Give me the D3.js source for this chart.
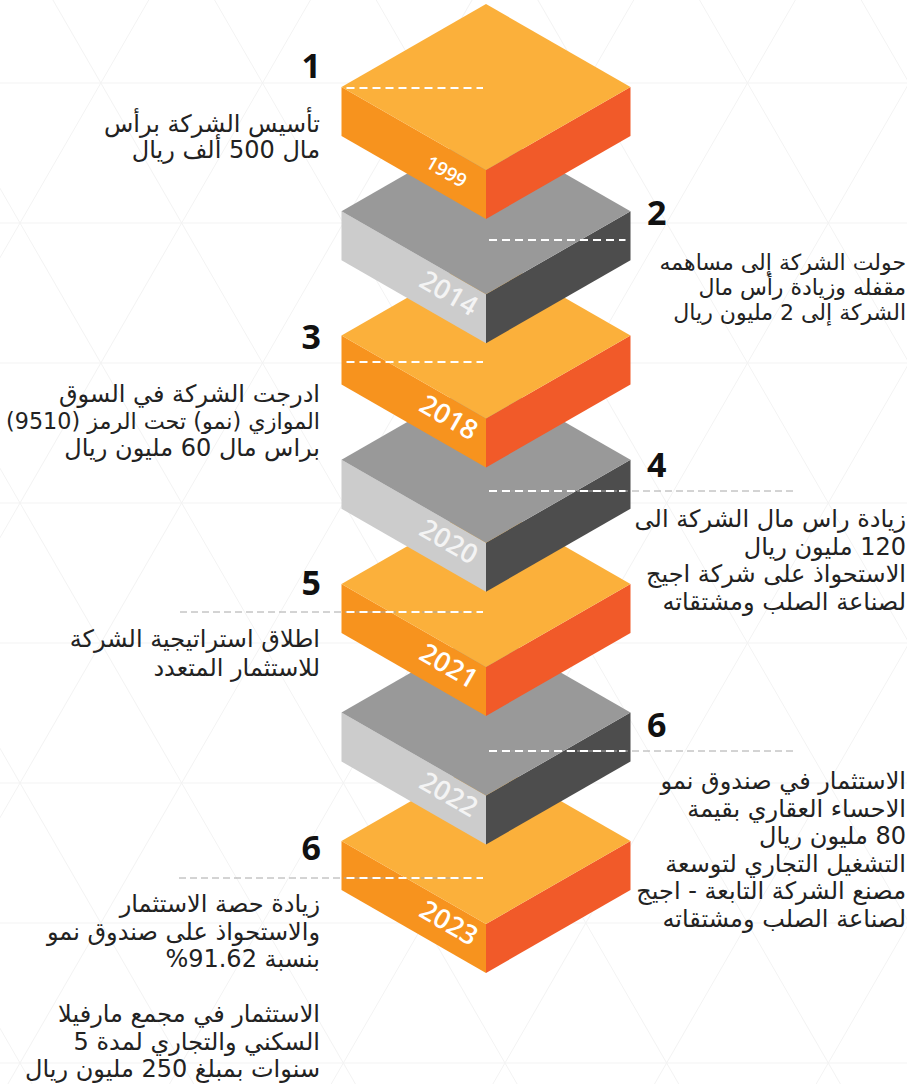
<!DOCTYPE html>
<html>
<head>
<meta charset="utf-8">
<script src="https://cdn.jsdelivr.net/npm/d3@7/dist/d3.min.js"></script>
<style>
  body { margin: 0; background: #fff; }
  svg { display: block; }
</style>
</head>
<body>
<svg id="chart"></svg>
<script>
// timeline data
var years = ["1999", "2014", "2018", "2020", "2021", "2022", "2023"];
var tones = ["orange", "gray", "orange", "gray", "orange", "gray", "orange"];
var stepNumbers = ["1", "2", "3", "4", "5", "6", "6"];
var stepSides = ["left", "right", "left", "right", "left", "right", "left"];
var stepLines = [
  ["تأسيس الشركة برأس", "مال 500 ألف ريال"],
  ["حولت الشركة إلى مساهمه", "مقفله وزيادة رأس مال", "الشركة إلى 2 مليون ريال"],
  ["ادرجت الشركة في السوق", "الموازي (نمو) تحت الرمز (9510)", "براس مال 60 مليون ريال"],
  ["زيادة راس مال الشركة الى", "120 مليون ريال", "الاستحواذ على شركة اجيج", "لصناعة الصلب ومشتقاته"],
  ["اطلاق استراتيجية الشركة", "للاستثمار المتعدد"],
  ["الاستثمار في صندوق نمو", "الاحساء العقاري بقيمة", "80 مليون ريال",
   "التشغيل التجاري لتوسعة", "مصنع الشركة التابعة - اجيج", "لصناعة الصلب ومشتقاته"],
  ["زيادة حصة الاستثمار", "والاستحواذ على صندوق نمو", "بنسبة 91.62%", "",
   "الاستثمار في مجمع مارفيلا", "السكني والتجاري لمدة 5", "سنوات بمبلغ 250 مليون ريال"]
];

var W = 907, H = 1084;
var svg = d3.select("#chart").attr("width", W).attr("height", H);

var colors = {
  orange: { top: "#fbb03b", left: "#f7931e", right: "#f15a29", year: "#ffffff" },
  gray:   { top: "#999999", left: "#cccccc", right: "#4d4d4d", year: "#f4f4f4" }
};

// block geometry
var cx = 486, hw = 144.5, hh = 83, th = 49;
var yBlock = d3.scaleLinear().domain([0, 4, 6]).range([87, 584, 841]);

// label layout per step (dashed line y, number baseline, first text baseline, line height, font size)
var labelLayout = [
  { dash: 88,  num: 78,  text: 132, lh: 26,   ext: 0,   fs: 24 },
  { dash: 240, num: 225, text: 270, lh: 25,   ext: 0,   fs: 22 },
  { dash: 362, num: 349, text: 402, lh: 27,   ext: 0,   fs: 24 },
  { dash: 491, num: 477, text: 527, lh: 27.7, ext: 793, fs: 24 },
  { dash: 612, num: 595, text: 647, lh: 29,   ext: 180, fs: 24 },
  { dash: 751, num: 737, text: 789, lh: 27.6, ext: 795, fs: 24 },
  { dash: 878, num: 860, text: 912, lh: 27.5, ext: 179, fs: 24 }
];

// faint triangle lattice in the background
var bg = svg.append("g").attr("stroke", "#f3f3f3").attr("stroke-width", 1).attr("fill", "none");
var rowH = 140, side = rowH / Math.sin(Math.PI / 3), y0 = 83;
d3.range(-1, 9).forEach(function (k) {
  var y = y0 + k * rowH;
  bg.append("line").attr("x1", 0).attr("x2", W).attr("y1", y).attr("y2", y);
});
d3.range(-8, 14).forEach(function (k) {
  var x = 20 + k * side;
  var dx = (H - y0 + rowH) / Math.tan(Math.PI / 3);
  bg.append("line").attr("x1", x).attr("y1", y0 - rowH)
    .attr("x2", x + dx).attr("y2", H);
  bg.append("line").attr("x1", x).attr("y1", y0 - rowH)
    .attr("x2", x - dx).attr("y2", H);
});

var blocks = years.map(function (y, i) { return { year: y, tone: tones[i], i: i }; });

// draw lower blocks first so upper ones sit on top
var g = svg.selectAll("g.block")
  .data(blocks.slice().reverse())
  .enter().append("g")
  .attr("class", "block");

function pts(a) { return a.map(function (p) { return p.join(","); }).join(" "); }

g.append("polygon")
  .attr("fill", function (d) { return colors[d.tone].left; })
  .attr("points", function (d) {
    var cy = yBlock(d.i);
    return pts([[cx - hw, cy], [cx, cy + hh], [cx, cy + hh + th], [cx - hw, cy + th]]);
  });
g.append("polygon")
  .attr("fill", function (d) { return colors[d.tone].right; })
  .attr("points", function (d) {
    var cy = yBlock(d.i);
    return pts([[cx + hw, cy], [cx, cy + hh], [cx, cy + hh + th], [cx + hw, cy + th]]);
  });
g.append("polygon")
  .attr("fill", function (d) { return colors[d.tone].top; })
  .attr("points", function (d) {
    var cy = yBlock(d.i);
    return pts([[cx, cy - hh], [cx + hw, cy], [cx, cy + hh], [cx - hw, cy]]);
  });

var slope = Math.atan2(hh, hw) * 180 / Math.PI;
g.append("text")
  .text(function (d) { return d.year; })
  .attr("font-family", "Open Sans, sans-serif")
  .attr("font-weight", 600)
  .attr("font-size", function (d) { return d.i == 0 ? 19 : 27; })
  .attr("text-anchor", "end")
  .attr("fill", function (d) { return colors[d.tone].year; })
  .attr("transform", function (d) {
    var cy = yBlock(d.i);
    var ex = d.i == 0 ? 24 : 15;
    var x = cx - ex;
    var y = cy + hh * (hw - ex) / hw + (d.i == 0 ? 32 : 31);
    return "translate(" + x + "," + y + ") rotate(" + slope + ")";
  });

// dashed pointers, numbers and texts
var maxWidth = 314;
var labels = svg.append("g");
stepNumbers.forEach(function (n, i) {
  var L = labelLayout[i];
  var left = stepSides[i] == "left";
  if (L.ext) {
    labels.append("line")
      .attr("x1", left ? L.ext : cx + 3).attr("x2", left ? cx - 3 : L.ext)
      .attr("y1", L.dash).attr("y2", L.dash)
      .attr("stroke", "#a8a8a8").attr("stroke-width", 1)
      .attr("stroke-dasharray", "7,4");
  }
  labels.append("line")
    .attr("x1", left ? cx - hw + 5 : cx + 3).attr("x2", left ? cx - 3 : cx + hw - 5)
    .attr("y1", L.dash).attr("y2", L.dash)
    .attr("stroke", "#ffffff").attr("stroke-width", 2)
    .attr("stroke-dasharray", "8,5");

  labels.append("text")
    .text(n)
    .attr("x", left ? 321 : 647).attr("y", L.num)
    .attr("text-anchor", left ? "end" : "start")
    .attr("font-family", "Open Sans, sans-serif").attr("font-weight", 700)
    .attr("font-size", 34).attr("fill", "#111");

  var grp = labels.append("g")
    .attr("font-family", "DejaVu Sans, sans-serif")
    .attr("font-size", L.fs).attr("fill", "#222");
  stepLines[i].forEach(function (line, j) {
    if (!line) return;
    var t = grp.append("text")
      .attr("direction", "rtl")
      .attr("text-anchor", "start")
      .attr("x", left ? 320 : 906)
      .attr("y", L.text + j * L.lh)
      .text(line);
    // shrink a line that would run past the page edge
    var len = t.node().getComputedTextLength();
    if (len > maxWidth) t.attr("font-size", L.fs * maxWidth / len);
  });
});
</script>
</body>
</html>
